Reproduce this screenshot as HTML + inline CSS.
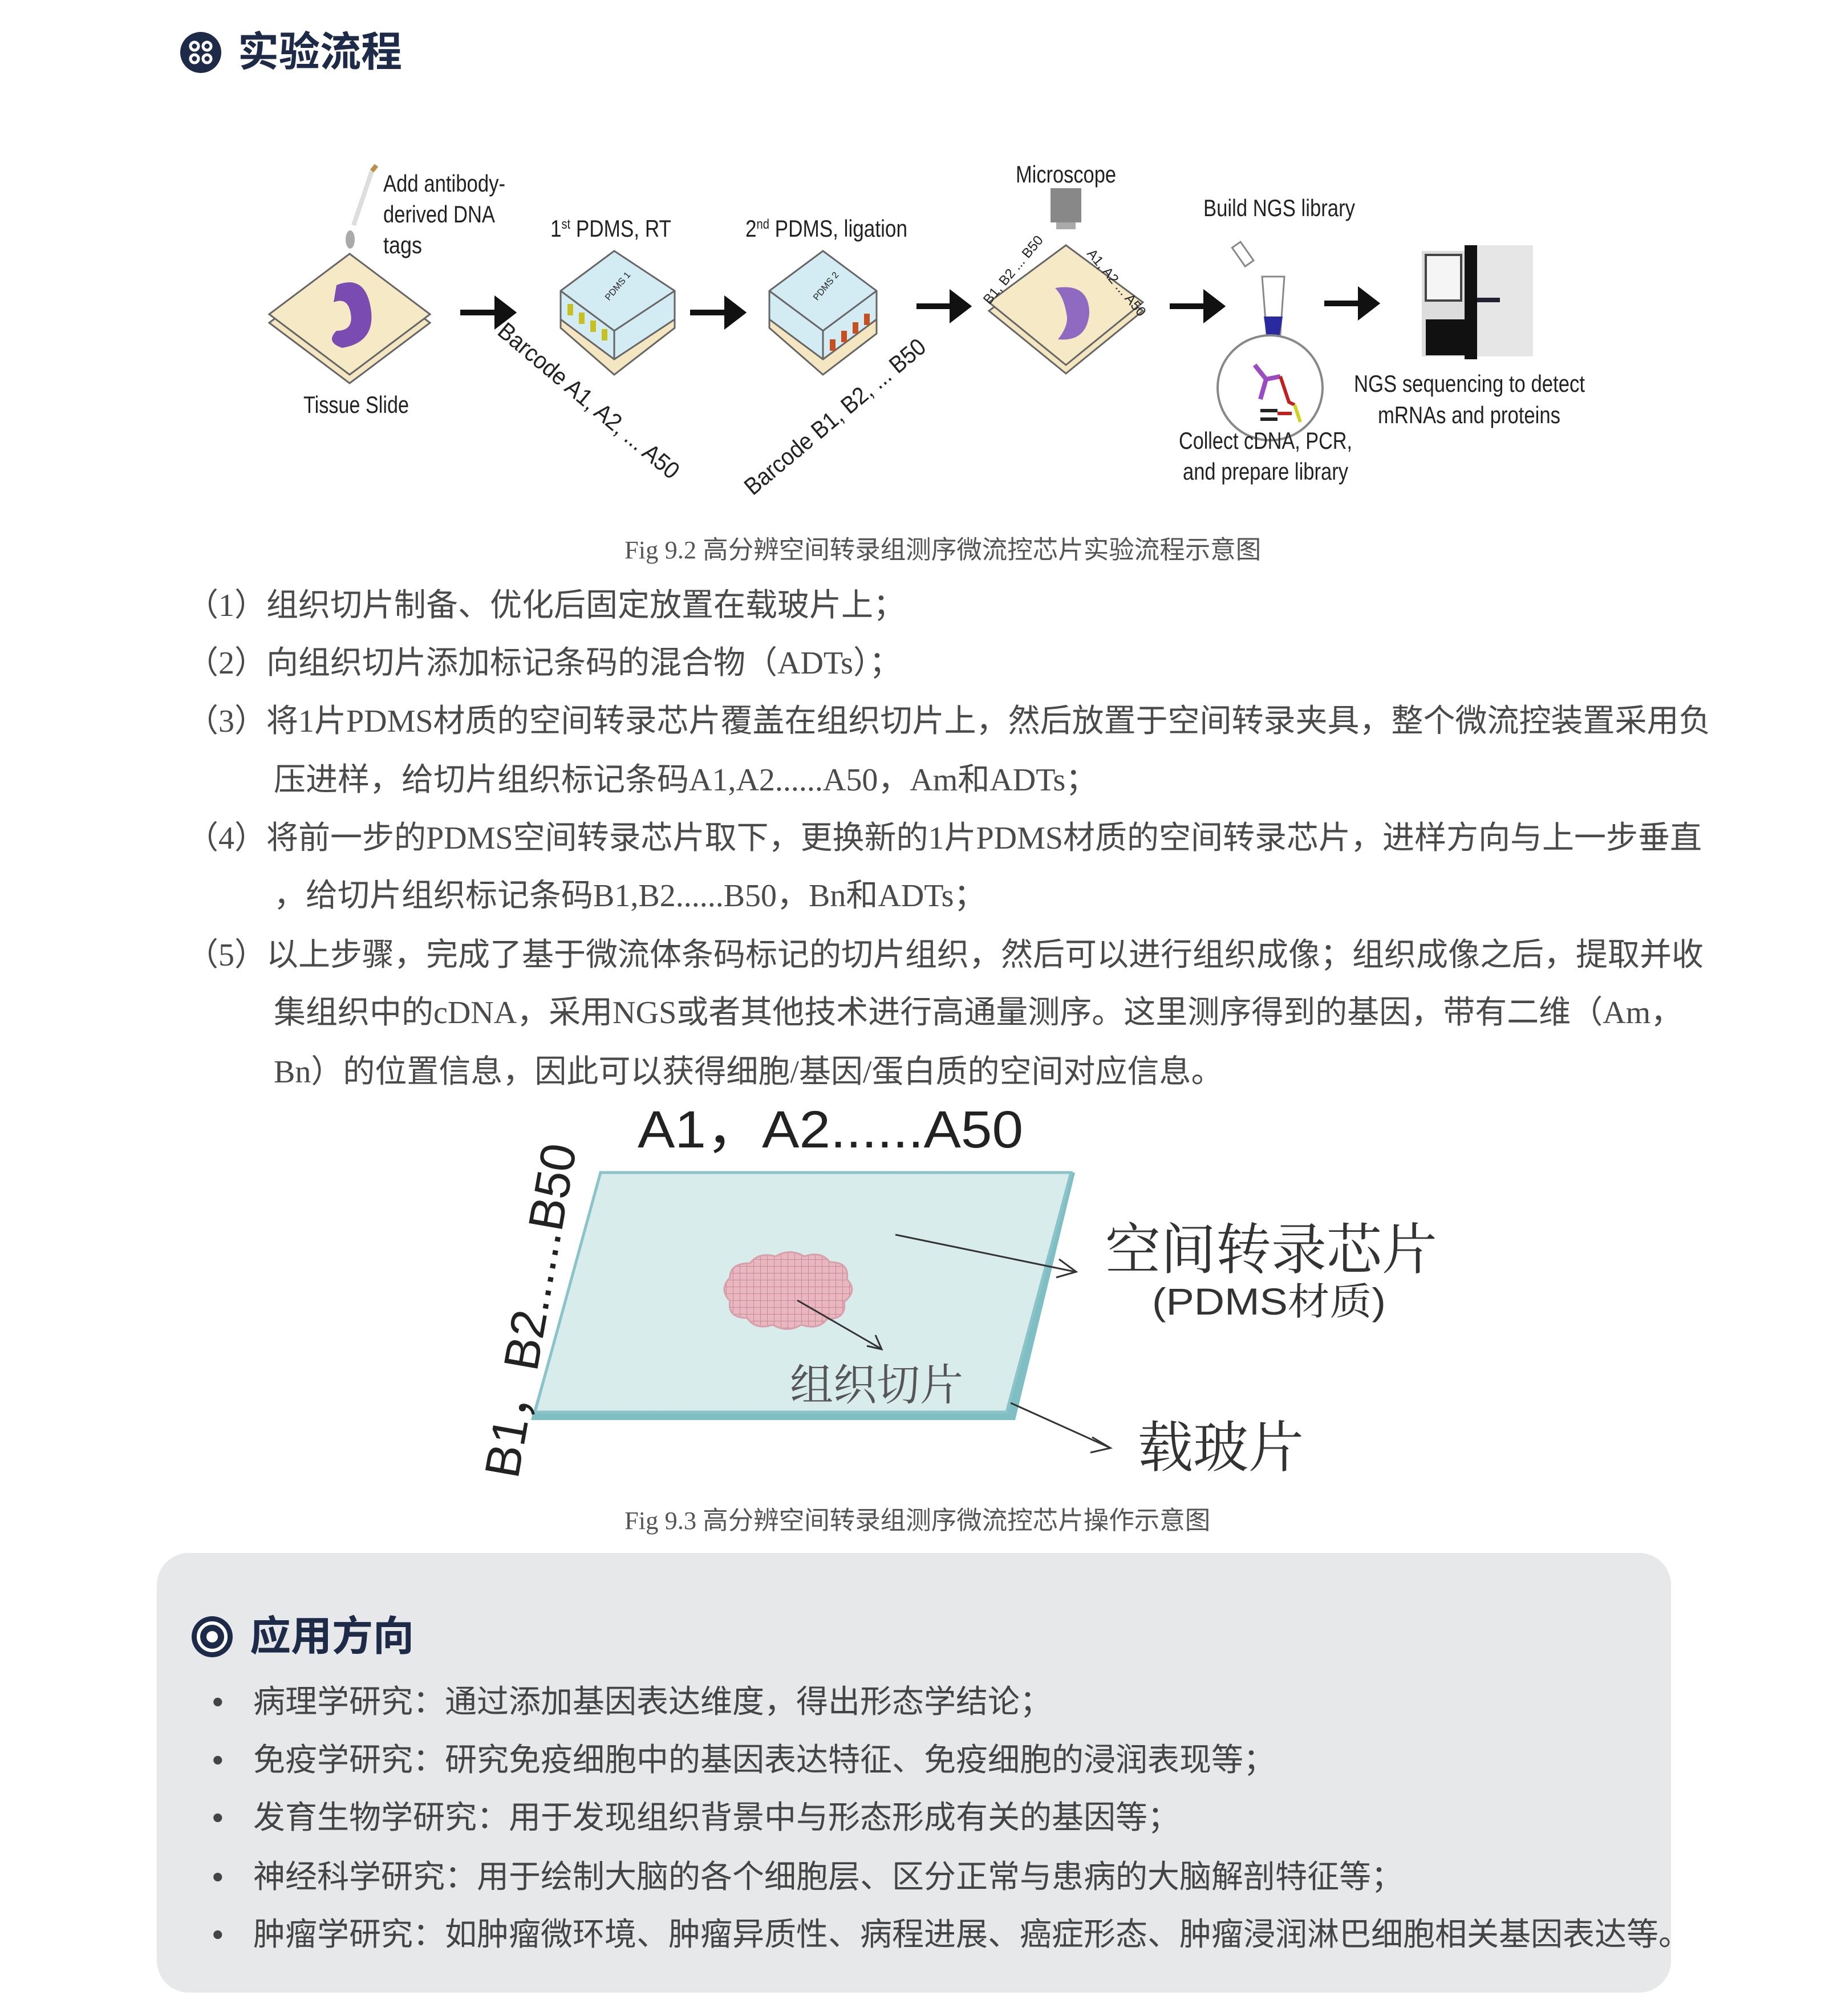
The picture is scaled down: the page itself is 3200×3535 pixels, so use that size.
<!DOCTYPE html>
<html><head><meta charset="utf-8">
<style>
html,body{margin:0;padding:0;background:#fff;}
body{width:3200px;height:3535px;position:relative;overflow:hidden;font-family:"Liberation Serif","Noto Sans CJK SC",serif;}
.t{position:absolute;white-space:nowrap;line-height:1;}
.p{font-size:56px;color:#4a4a4a;height:56px;}
.cap{font-size:44.5px;color:#555;font-family:"Liberation Serif","Noto Sans CJK SC",serif;}
.h{font-family:"Liberation Sans","Noto Sans CJK SC",sans-serif;font-weight:bold;color:#1e2b48;font-size:72px;}
.b{font-family:"Liberation Sans","Noto Sans CJK SC",sans-serif;font-size:56px;color:#444;}
svg{position:absolute;left:0;top:0;}
</style></head><body>
<div style="position:absolute;left:275px;top:2723px;width:2655px;height:771px;background:#e7e8ea;border-radius:56px;"></div>
<svg width="3200" height="3535" viewBox="0 0 3200 3535">
<defs>
<pattern id="grid" width="12" height="12" patternUnits="userSpaceOnUse"><rect width="12" height="12" fill="#e8b7bf"/><path d="M0,0H12M0,0V12" stroke="#c98a96" stroke-width="2"/></pattern>
</defs>
<circle cx="352" cy="92" r="36" fill="#1e2b48"/>
<g fill="none" stroke="#fff" stroke-width="5"><circle cx="341" cy="81" r="7"/><circle cx="363" cy="81" r="7"/><circle cx="341" cy="103" r="7"/><circle cx="363" cy="103" r="7"/></g>
<circle cx="372" cy="2870" r="36" fill="#1e2b48"/>
<circle cx="372" cy="2870" r="24" fill="none" stroke="#fff" stroke-width="6"/>
<circle cx="372" cy="2870" r="10" fill="#fff"/>

<g font-family="Liberation Sans, sans-serif" fill="#222" font-size="42">
<polygon points="613,460 754,566 613,672 472,566" fill="#f3e6c1" stroke="#666" stroke-width="3"/>
<polygon points="613,445 754,551 613,657 472,551" fill="#f5e9c6" stroke="#666" stroke-width="3"/>
<path d="M590,500 q50,-20 60,40 q10,60 -50,70 q-30,-10 -10,-30 q30,0 25,-30 q-5,-30 -30,-20 z" fill="#7a4bb0"/>
<line x1="652" y1="300" x2="620" y2="395" stroke="#ddd" stroke-width="8"/>
<line x1="652" y1="300" x2="660" y2="290" stroke="#b8904a" stroke-width="8"/>
<ellipse cx="614" cy="420" rx="8" ry="16" fill="#aaa"/>
<text x="672" y="336" textLength="214" lengthAdjust="spacingAndGlyphs">Add antibody-</text>
<text x="672" y="390" textLength="196" lengthAdjust="spacingAndGlyphs">derived DNA</text>
<text x="672" y="444" textLength="68" lengthAdjust="spacingAndGlyphs">tags</text>
<text x="532" y="724" textLength="185" lengthAdjust="spacingAndGlyphs">Tissue Slide</text>
<g stroke="#111" stroke-width="10" fill="#111">
<line x1="807" y1="548" x2="875" y2="548"/><polygon points="872,528 898,548 872,568"/>
<line x1="1210" y1="548" x2="1278" y2="548"/><polygon points="1275,528 1301,548 1275,568"/>
<line x1="1607" y1="537" x2="1672" y2="537"/><polygon points="1670,517 1696,537 1670,557"/>
<line x1="2051" y1="537" x2="2117" y2="537"/><polygon points="2115,517 2141,537 2115,557"/>
<line x1="2322" y1="532" x2="2388" y2="532"/><polygon points="2386,512 2412,532 2386,552"/>
</g>
<polygon points="1077,630 1183,548 1183,575 1077,657 983,575 983,548" fill="#f3e6c1" stroke="#666" stroke-width="3"/>
<polygon points="983,510 1077,440 1183,510 1183,560 1077,630 983,560" fill="#d3ebf2" stroke="#666" stroke-width="3"/>
<polyline points="983,510 1077,580 1183,510" fill="none" stroke="#666" stroke-width="3"/>
<line x1="1077" y1="580" x2="1077" y2="630" stroke="#666" stroke-width="3"/>
<g fill="#c8c020"><rect x="995" y="533" width="10" height="20"/><rect x="1015" y="548" width="10" height="20"/><rect x="1035" y="562" width="10" height="20"/><rect x="1055" y="577" width="10" height="20"/></g>
<text x="1055" y="520" font-size="16" transform="rotate(-50 1070 510)">PDMS 1</text>
<polygon points="1443,630 1537,560 1537,585 1443,657 1349,575 1349,548" fill="#f3e6c1" stroke="#666" stroke-width="3"/>
<polygon points="1349,510 1443,440 1537,510 1537,560 1443,630 1349,560" fill="#d3ebf2" stroke="#666" stroke-width="3"/>
<polyline points="1349,510 1443,580 1537,510" fill="none" stroke="#666" stroke-width="3"/>
<line x1="1443" y1="580" x2="1443" y2="630" stroke="#666" stroke-width="3"/>
<g fill="#c85020"><rect x="1455" y="595" width="10" height="20"/><rect x="1475" y="580" width="10" height="20"/><rect x="1495" y="565" width="10" height="20"/><rect x="1515" y="550" width="10" height="20"/></g>
<text x="1420" y="520" font-size="16" transform="rotate(-50 1435 510)">PDMS 2</text>
<text x="965" y="415" textLength="212" lengthAdjust="spacingAndGlyphs">1<tspan font-size="24" dy="-14">st</tspan><tspan dy="14"> PDMS, RT</tspan></text>
<text x="1307" y="415" textLength="284" lengthAdjust="spacingAndGlyphs">2<tspan font-size="24" dy="-14">nd</tspan><tspan dy="14"> PDMS, ligation</tspan></text>
<text x="870" y="585" transform="rotate(40 870 585)" textLength="400" lengthAdjust="spacingAndGlyphs">Barcode A1, A2, ... A50</text>
<text x="1320" y="870" transform="rotate(-40 1320 870)" textLength="400" lengthAdjust="spacingAndGlyphs">Barcode B1, B2, ... B50</text>
<text x="1781" y="320" textLength="176" lengthAdjust="spacingAndGlyphs">Microscope</text>
<rect x="1842" y="330" width="54" height="60" fill="#888"/><rect x="1852" y="390" width="34" height="12" fill="#aaa"/>
<polygon points="1869,445 2004,545 1869,655 1734,545" fill="#f3e6c1" stroke="#666" stroke-width="3"/>
<polygon points="1869,430 2004,530 1869,640 1734,530" fill="#f5e9c6" stroke="#666" stroke-width="3"/>
<path d="M1850,505 q60,-10 60,45 q-5,50 -55,45 q20,-25 15,-45 q-5,-30 -20,-45z" fill="#8f6ac0"/>
<text x="1735" y="535" font-size="24" transform="rotate(-50 1735 535)">B1, B2 ... B50</text>
<text x="1905" y="445" font-size="24" transform="rotate(50 1905 445)">A1, A2 ... A50</text>
<text x="2110" y="379" textLength="266" lengthAdjust="spacingAndGlyphs">Build NGS library</text>
<polygon points="2213,485 2252,485 2244,600 2232,615 2222,600" fill="#fff" stroke="#888" stroke-width="3"/>
<polygon points="2216,555 2249,555 2240,610 2232,615 2224,610" fill="#2a2aa0"/>
<rect x="2170" y="425" width="18" height="40" fill="#fff" stroke="#888" stroke-width="3" transform="rotate(-35 2180 445)"/>
<circle cx="2227" cy="680" r="92" fill="#fff" stroke="#888" stroke-width="4"/>
<path d="M2200,640 l20,25 l25,-5 M2210,700 l10,-35" stroke="#9b4bc0" stroke-width="8" fill="none"/>
<path d="M2245,660 l15,45 l10,5" stroke="#c02020" stroke-width="6" fill="none"/>
<path d="M2270,710 l10,30" stroke="#d0d020" stroke-width="6" fill="none"/>
<path d="M2210,720 l30,0 M2210,735 l30,0" stroke="#222" stroke-width="6"/>
<path d="M2240,725 l25,0" stroke="#c02020" stroke-width="6"/>
<text x="2067" y="787" textLength="304" lengthAdjust="spacingAndGlyphs">Collect cDNA, PCR,</text>
<text x="2074" y="841" textLength="290" lengthAdjust="spacingAndGlyphs">and prepare library</text>
<rect x="2493" y="440" width="75" height="185" fill="#ddd"/>
<rect x="2500" y="447" width="62" height="80" fill="#f5f5f5" stroke="#444" stroke-width="4"/>
<rect x="2500" y="560" width="68" height="63" fill="#111"/>
<rect x="2568" y="430" width="22" height="200" fill="#111"/>
<rect x="2590" y="430" width="98" height="195" fill="#e6e6e6"/>
<rect x="2590" y="522" width="40" height="8" fill="#223"/>
<text x="2374" y="687" textLength="405" lengthAdjust="spacingAndGlyphs">NGS sequencing to detect</text>
<text x="2416" y="742" textLength="320" lengthAdjust="spacingAndGlyphs">mRNAs and proteins</text>
</g>

<polygon points="1053,2056 1885,2056 1780,2490 931,2490" fill="#7fbfc4"/>
<polygon points="1053,2056 1878,2056 1765,2476 938,2476" fill="#d8ecec" stroke="#8ac4c8" stroke-width="5"/>
<g transform="translate(25,0)">
<path d="M1255,2240 q0,-25 35,-25 q15,-20 45,-12 q25,-15 50,0 q30,-10 45,10 q35,0 30,30 q20,20 -5,40 q5,30 -30,30 q-15,20 -45,10 q-25,15 -50,0 q-30,10 -45,-12 q-35,0 -30,-30 q-20,-20 0,-41z" fill="url(#grid)" stroke="#d8a0aa" stroke-width="3"/>
</g>
<g stroke="#333" stroke-width="3" fill="none">
<line x1="1570" y1="2165" x2="1885" y2="2230"/>
<polyline points="1857,2208 1887,2230 1852,2240"/>
<line x1="1398" y1="2280" x2="1545" y2="2365"/>
<polyline points="1520,2360 1546,2366 1535,2341"/>
<line x1="1772" y1="2460" x2="1945" y2="2538"/>
<polyline points="1915,2520 1947,2539 1912,2547"/>
</g>
<g font-family="Liberation Sans, Noto Sans CJK SC, sans-serif" fill="#222">
<text x="1118" y="2012" font-size="92" textLength="676" lengthAdjust="spacingAndGlyphs">A1，A2......A50</text>
<text x="0" y="0" font-size="86" transform="translate(908,2595) rotate(-80)">B1，B2......B50</text>
</g>
<g font-family="Noto Serif CJK SC, serif" fill="#333">
<text x="1938" y="2225" font-size="97">空间转录芯片</text>
<text x="2020" y="2305" font-size="66" font-family="Liberation Sans, Noto Serif CJK SC, sans-serif" textLength="410" lengthAdjust="spacingAndGlyphs">(PDMS材质)</text>
<text x="1385" y="2455" font-size="76" fill="#555">组织切片</text>
<text x="1995" y="2572" font-size="97">载玻片</text>
</g>
</svg>

<div class="t h" style="left:417px;top:56px;">实验流程</div>
<div class="t cap" style="left:1095px;top:942px;">Fig 9.2 高分辨空间转录组测序微流控芯片实验流程示意图</div>
<div class="t p" style="left:327px;top:1034px;">（1）组织切片制备、优化后固定放置在载玻片上；</div>
<div class="t p" style="left:327px;top:1135px;">（2）向组织切片添加标记条码的混合物（ADTs）；</div>
<div class="t p" style="left:327px;top:1237px;">（3）将1片PDMS材质的空间转录芯片覆盖在组织切片上，然后放置于空间转录夹具，整个微流控装置采用负</div>
<div class="t p" style="left:480px;top:1340px;">压进样，给切片组织标记条码A1,A2......A50，Am和ADTs；</div>
<div class="t p" style="left:327px;top:1442px;">（4）将前一步的PDMS空间转录芯片取下，更换新的1片PDMS材质的空间转录芯片，进样方向与上一步垂直</div>
<div class="t p" style="left:480px;top:1543px;">，给切片组织标记条码B1,B2......B50，Bn和ADTs；</div>
<div class="t p" style="left:327px;top:1647px;">（5）以上步骤，完成了基于微流体条码标记的切片组织，然后可以进行组织成像；组织成像之后，提取并收</div>
<div class="t p" style="left:480px;top:1748px;">集组织中的cDNA，采用NGS或者其他技术进行高通量测序。这里测序得到的基因，带有二维（Am，</div>
<div class="t p" style="left:480px;top:1852px;">Bn）的位置信息，因此可以获得细胞/基因/蛋白质的空间对应信息。</div>
<div class="t cap" style="left:1095px;top:2644px;">Fig 9.3 高分辨空间转录组测序微流控芯片操作示意图</div>

<div class="t h" style="left:438px;top:2834px;">应用方向</div>
<div class="t b" style="left:372px;top:2956px;">•</div><div class="t b" style="left:444px;top:2956px;">病理学研究：通过添加基因表达维度，得出形态学结论；</div>
<div class="t b" style="left:372px;top:3058px;">•</div><div class="t b" style="left:444px;top:3058px;">免疫学研究：研究免疫细胞中的基因表达特征、免疫细胞的浸润表现等；</div>
<div class="t b" style="left:372px;top:3159px;">•</div><div class="t b" style="left:444px;top:3159px;">发育生物学研究：用于发现组织背景中与形态形成有关的基因等；</div>
<div class="t b" style="left:372px;top:3263px;">•</div><div class="t b" style="left:444px;top:3263px;">神经科学研究：用于绘制大脑的各个细胞层、区分正常与患病的大脑解剖特征等；</div>
<div class="t b" style="left:372px;top:3364px;">•</div><div class="t b" style="left:444px;top:3364px;">肿瘤学研究：如肿瘤微环境、肿瘤异质性、病程进展、癌症形态、肿瘤浸润淋巴细胞相关基因表达等。</div>
</body></html>
